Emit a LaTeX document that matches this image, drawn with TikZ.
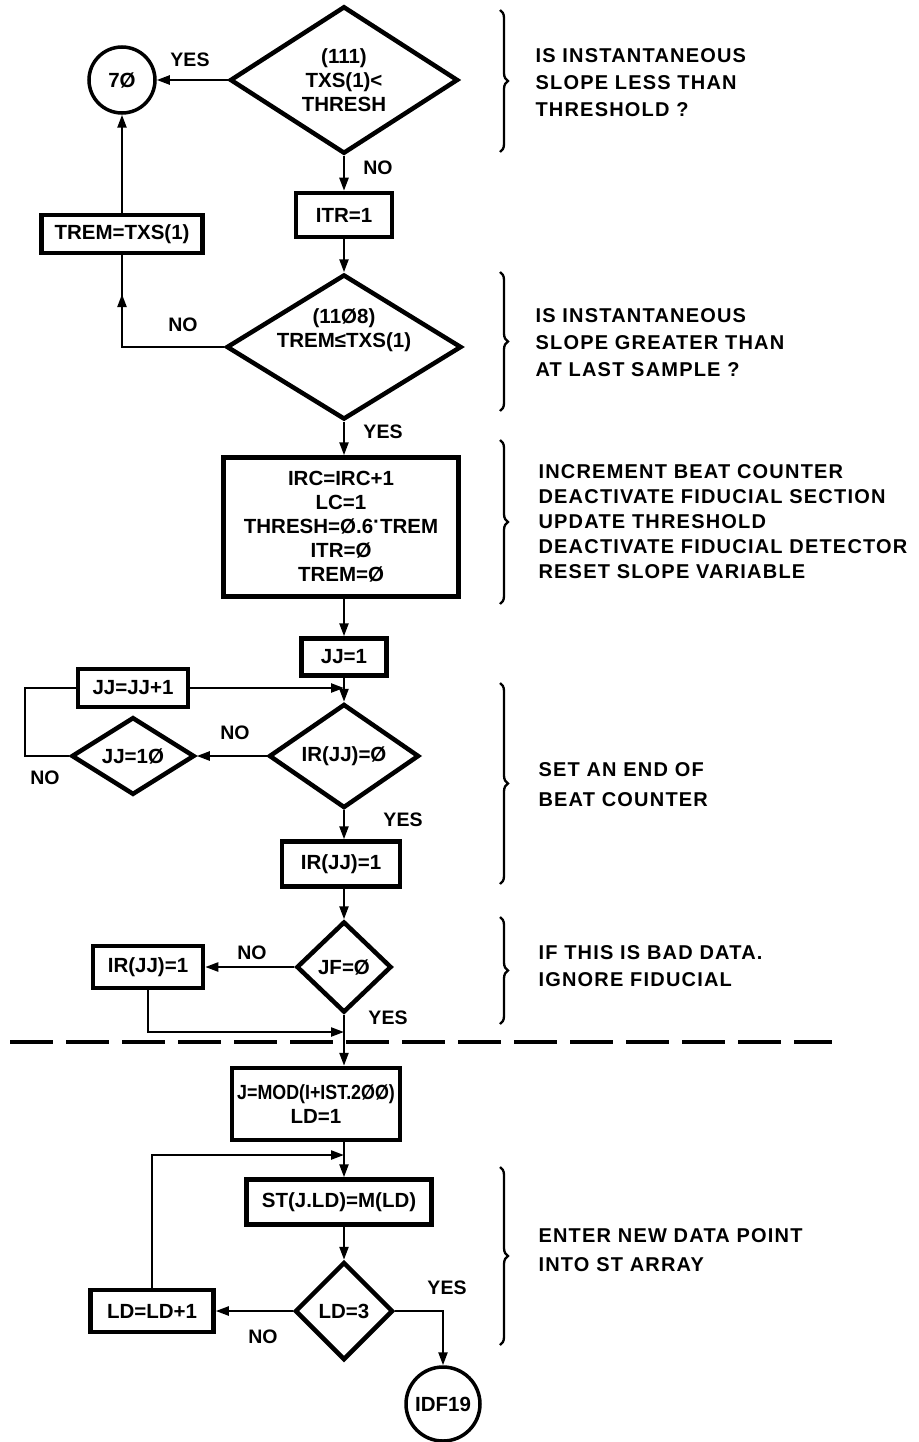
\documentclass[tikz,border=0pt]{standalone}
\usepackage{fontspec}
\setmainfont{Liberation Sans}
\newfontfamily\annfont{Liberation Sans}[LetterSpace=6]
\usetikzlibrary{shapes.geometric,arrows.meta,decorations.pathreplacing,decorations.markings}
\begin{document}
\begin{tikzpicture}[x=1pt,y=-1pt,
  boxfont/.style={font={\fontsize{20.5}{24}\selectfont\bfseries}},
  box/.style={draw, line width=4.5pt, rectangle, inner sep=0pt, boxfont, align=center},
  dec/.style={draw, line width=4.5pt, diamond, inner sep=0pt, boxfont, align=center},
  term/.style={draw, line width=3.5pt, circle, inner sep=0pt, boxfont},
  conn/.style={draw, line width=2.3pt},
  arr/.style={conn, -{Triangle[length=13pt,width=9pt]}},
  lab/.style={font={\fontsize{19.5}{22}\selectfont\bfseries}},
  ann/.style={anchor=west, align=left, font={\annfont\bfseries\fontsize{20}{27}\selectfont}},
  brc/.style={draw, decorate, decoration={brace, amplitude=8pt}, line width=2.3pt},
]
\fill[white] (0,0) rectangle (918,1442);
\useasboundingbox (0,0) rectangle (918,1442);

% nodes
\node[dec, minimum width=228pt, minimum height=133pt] (d1) at (344,80) {(111)\\TXS(1)<\\THRESH};
\node[term, minimum size=66pt] (c70) at (122,80) {7Ø};
\node[box, minimum width=96pt, minimum height=44pt] (itr) at (344,215) {ITR=1};
\node[box, minimum width=161pt, minimum height=38pt] (trem) at (122,234) {TREM=TXS(1)};
\node[dec, minimum width=235pt, minimum height=145pt,
  label={[boxfont, align=center, yshift=17pt]center:{(11Ø8)\\TREM≤TXS(1)}}] (d2) at (344,347) {};
\node[box, minimum width=235pt, minimum height=139pt] (big) at (341,527)
  {IRC=IRC+1\\LC=1\\THRESH=Ø.6\raisebox{0.45ex}{·}TREM\\ITR=Ø\\TREM=Ø};
\node[box, minimum width=85pt, minimum height=37pt] (jj1) at (344,657) {JJ=1};
\node[box, minimum width=110pt, minimum height=38pt] (jjp) at (133,688) {JJ=JJ+1};
\node[dec, minimum width=150pt, minimum height=85pt] (d3) at (344,756) {IR(JJ)=Ø};
\node[dec, minimum width=123pt, minimum height=73pt] (d4) at (133,756) {JJ=1Ø};
\node[box, minimum width=118pt, minimum height=45pt] (ir1) at (341,864) {IR(JJ)=1};
\node[dec, minimum width=95pt, minimum height=91pt] (d5) at (344,967) {JF=Ø};
\node[box, minimum width=110pt, minimum height=42pt] (ir2) at (148,967) {IR(JJ)=1};
\node[box, minimum width=168pt, minimum height=72pt] (mod) at (316,1104)
  {{\addfontfeatures{FakeStretch=0.87}J=MOD(I+IST.2ØØ)}\\LD=1};
\node[box, minimum width=185pt, minimum height=45pt] (st) at (339,1202) {ST(J.LD)=M(LD)};
\node[dec, minimum width=98pt, minimum height=98pt] (d6) at (344,1311) {LD=3};
\node[box, minimum width=123pt, minimum height=42pt] (ldp) at (152,1311) {LD=LD+1};
\node[term, minimum size=74pt] (idf) at (443,1404) {IDF19};

% helper coordinates
\coordinate (lx) at (25,756);
\coordinate (j2) at (344,1032);
\coordinate (j3) at (344,1155);

% connectors
\draw[arr] (d1.west) -- (c70.east);
\draw[arr] (d1.south) -- (itr.north);
\draw[arr] (itr.south) -- (d2.north);
\draw[arr] (trem.north) -- (c70.south);
\draw[conn, postaction={decorate}, decoration={markings, mark=at position 0.8 with {\arrow{Triangle[length=13pt,width=9pt]}}}]
  (d2.west) -| (trem.south);
\draw[arr] (d2.south) -- (d2.south |- big.north);
\draw[arr] (d2.south |- big.south) -- (jj1.north);
\draw[arr] (jj1.south) -- (d3.north);
\draw[arr] (jjp.east) -- (jjp.east -| d3.north);
\draw[arr] (d3.west) -- (d4.east);
\draw[conn] (d4.west) -- (lx) |- (jjp.west);
\draw[arr] (d3.south) -- (d3.south |- ir1.north);
\draw[arr] (d3.south |- ir1.south) -- (d5.north);
\draw[arr] (d5.west) -- (ir2.east);
\draw[arr] (ir2.south) |- (j2);
\draw[arr] (d5.south) -- (d5.south |- mod.north);
\draw[arr] (d5.south |- mod.south) -- (d5.south |- st.north);
\draw[arr] (ldp.north) |- (j3);
\draw[arr] (d5.south |- st.south) -- (d6.north);
\draw[arr] (d6.west) -- (ldp.east);
\draw[arr] (d6.east) -| (idf.north);

% branch labels
\node[lab] (y1) at (190,60) {YES};
\node[lab] (n1) at (378,168) {NO};
\node[lab] (n2) at (183,325) {NO};
\node[lab] (y2) at (383,432) {YES};
\node[lab] (n3) at (235,733) {NO};
\node[lab] (n4) at (45,778) {NO};
\node[lab] (y3) at (403,820) {YES};
\node[lab] (n5) at (252,953) {NO};
\node[lab] (y4) at (388,1018) {YES};
\node[lab] (y5) at (447,1288) {YES};
\node[lab] (n6) at (263,1337) {NO};

% separator
\draw[line width=3.8pt, dash pattern=on 43pt off 13pt] (10,1042) -- (832,1042);

% braces
\draw[brc] (500,10) -- (500,152);
\draw[brc] (500,272) -- (500,411);
\draw[brc] (500,440) -- (500,604);
\draw[brc] (500,683) -- (500,884);
\draw[brc] (500,917) -- (500,1024);
\draw[brc] (500,1167) -- (500,1345);

% annotations
\node[ann] (a1) at (532,83) {IS INSTANTANEOUS\\SLOPE LESS THAN\\THRESHOLD ?};
\node[ann] (a2) at (532,343) {IS INSTANTANEOUS\\SLOPE GREATER THAN\\AT LAST SAMPLE ?};
\node[ann, font={\annfont\bfseries\fontsize{20}{25}\selectfont}] (a3) at (535,522)
  {INCREMENT BEAT COUNTER\\DEACTIVATE FIDUCIAL SECTION\\UPDATE THRESHOLD\\DEACTIVATE FIDUCIAL DETECTOR\\RESET SLOPE VARIABLE};
\node[ann, font={\annfont\bfseries\fontsize{20}{30}\selectfont}] (a4) at (535,785) {SET AN END OF\\BEAT COUNTER};
\node[ann] (a5) at (535,966) {IF THIS IS BAD DATA.\\IGNORE FIDUCIAL};
\node[ann, font={\annfont\bfseries\fontsize{20}{29}\selectfont}] (a6) at (535,1250) {ENTER NEW DATA POINT\\INTO ST ARRAY};
\end{tikzpicture}
\end{document}
